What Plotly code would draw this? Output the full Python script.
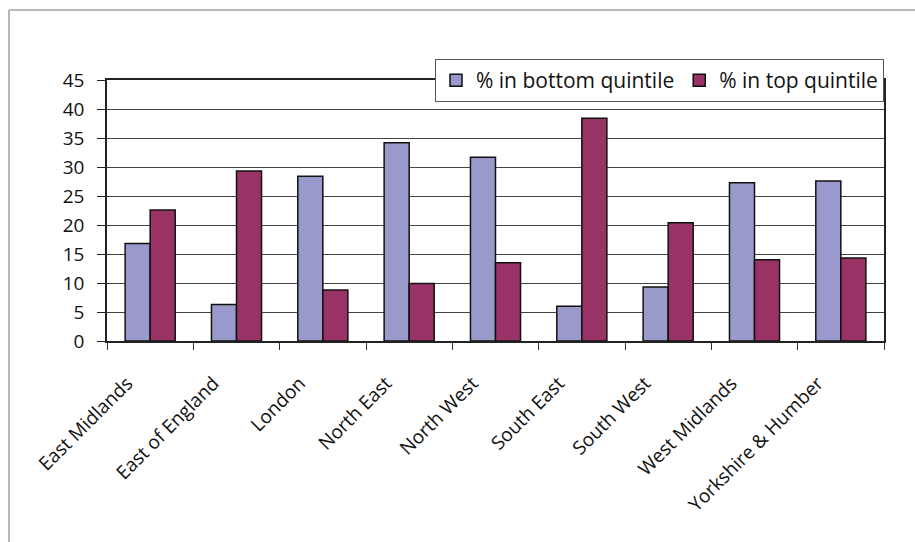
import plotly.graph_objects as go

regions = ["East Midlands", "East of England", "London", "North East", "North West",
           "South East", "South West", "West Midlands", "Yorkshire & Humber"]
bottom_quintile = [16.8, 6.3, 28.4, 34.2, 31.7, 6.0, 9.3, 27.3, 27.6]
top_quintile = [22.6, 29.3, 8.8, 9.9, 13.5, 38.4, 20.4, 14.0, 14.3]
y_ticks = [0, 5, 10, 15, 20, 25, 30, 35, 40, 45]

FONT = "Open Sans"
W, H = 915, 542
L, R, T, B = 107, 31, 80, 201
pw, ph = W - L - R, H - T - B


def px_x(x):
    return (x - L) / pw


def px_y(y):
    return (H - B - y) / ph


fig = go.Figure()
fig.add_trace(go.Bar(
    x=regions, y=bottom_quintile, name="% in bottom quintile",
    marker=dict(color="#9999CC", line=dict(color="#111111", width=1.5)),
))
fig.add_trace(go.Bar(
    x=regions, y=top_quintile, name="% in top quintile",
    marker=dict(color="#993366", line=dict(color="#111111", width=1.5)),
))

# frame around the chart: top and left edges only
fx0, fy0 = px_x(9), px_y(10)
fig.add_shape(type="line", xref="paper", yref="paper",
              x0=fx0, y0=fy0, x1=px_x(W + 5), y1=fy0,
              line=dict(color="#a0a0a0", width=1.5))
fig.add_shape(type="line", xref="paper", yref="paper",
              x0=fx0, y0=fy0, x1=fx0, y1=px_y(H + 5),
              line=dict(color="#a0a0a0", width=1.5))

fig.update_layout(
    width=W, height=H,
    margin=dict(l=L, r=R, t=T, b=B),
    paper_bgcolor="white", plot_bgcolor="white",
    barmode="group", bargap=0.42, bargroupgap=0,
    font=dict(family=FONT, color="#111111"),
    showlegend=True,
    legend=dict(
        orientation="h", x=1, xanchor="right", y=px_y(59), yanchor="top",
        bgcolor="white", bordercolor="#555555", borderwidth=1,
        font=dict(size=21, family=FONT), itemwidth=30,
        traceorder="normal",
    ),
    xaxis=dict(
        type="category", tickangle=-45, tickfont=dict(size=19),
        ticks="outside", tickson="boundaries", ticklen=7, tickcolor="#333333",
        showline=True, linecolor="#222222", linewidth=1.5, mirror=True,
        showgrid=False, ticklabelshift=-23, ticklabelstandoff=22,
    ),
    yaxis=dict(
        range=[0, 45], tickvals=y_ticks, tickfont=dict(size=19),
        ticks="outside", ticklen=8, tickcolor="#222222",
        showline=True, linecolor="#222222", linewidth=1.5, mirror=True,
        showgrid=True, gridcolor="#444444", gridwidth=1, zeroline=False,
        ticklabelstandoff=9,
    ),
)

fig.write_html("out.html")
